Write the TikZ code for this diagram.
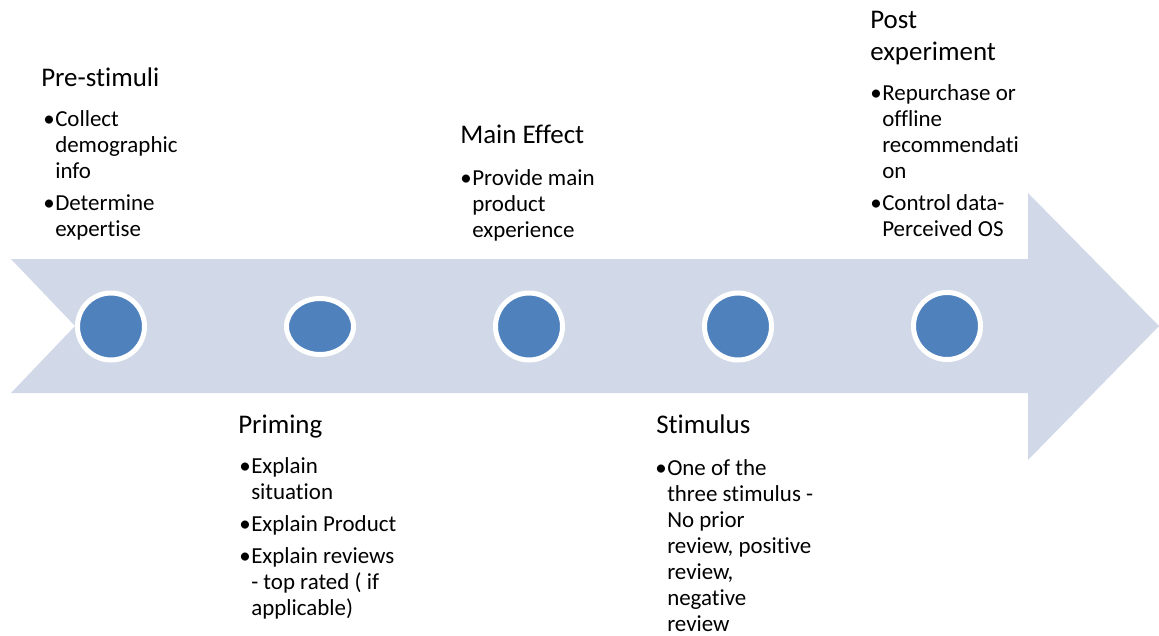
\documentclass[tikz,border=0pt]{standalone}
\usepackage{fontspec}
\setmainfont{Carlito}[RawFeature={-liga;-clig;-calt;-dlig}]
\usetikzlibrary{shapes.geometric}
\definecolor{bandblue}{HTML}{D1D8E7}
\definecolor{dotblue}{HTML}{4F81BD}
\newcommand{\itm}{\makebox[9pt][l]{\textbullet}}
\newcommand{\hang}{\hspace*{9pt}}
\newcommand{\steplist}[1]{\parbox[t]{160pt}{\fontsize{17.2}{19.5}\selectfont #1}}
\newcommand{\steptitle}[1]{\parbox[t]{160pt}{\fontsize{20.2}{24}\selectfont #1}}

\begin{document}
\begin{tikzpicture}[x=0.75pt, y=-0.75pt,
    dot/.style={circle, fill=dotblue, draw=white, line width=3.75pt, minimum size=50.25pt, inner sep=0pt},
    title/.style={anchor=base west, inner sep=0pt},
    list/.style={anchor=base west, inner sep=0pt}]
    % canvas
    \useasboundingbox (0,0) rectangle (1159,635);
    % big arrow
    \fill[bandblue] (11,259) -- (1028,259) -- (1028,193) -- (1159,326)
        -- (1028,460) -- (1028,393) -- (11,393) -- (75,326) -- cycle;
    % dots on the arrow
    \node[dot] (dot1) at (111,326.5) {};
    \node[dot, ellipse, minimum width=50.25pt, minimum height=42pt] (dot2) at (320,326.5) {};
    \node[dot] (dot3) at (529,326.5) {};
    \node[dot] (dot4) at (738,326.5) {};
    \node[dot] (dot5) at (947,326) {};
    % pre-stimuli
    \node[title] (pre-title) at (41,87) {\steptitle{Pre-stimuli}};
    \node[list] (pre-list) at (43,126) {\steplist{\itm Collect\\\hang demographic\\\hang info\\[4.5pt]
        \itm Determine\\\hang expertise}};
    % priming
    \node[title] (prime-title) at (238,433) {\steptitle{Priming}};
    \node[list] (prime-list) at (239,473) {\steplist{\itm Explain\\\hang situation\\[4.5pt]
        \itm Explain Product\\[4.5pt]
        \itm Explain reviews\\\hang - top rated ( if\\\hang applicable)}};
    % main effect
    \node[title] (main-title) at (460,143) {\steptitle{Main Effect}};
    \node[list] (main-list) at (460,185) {\steplist{\itm Provide main\\\hang product\\\hang experience}};
    % stimulus
    \node[title] (stim-title) at (656,433) {\steptitle{Stimulus}};
    \node[list] (stim-list) at (655,475) {\steplist{\itm One of the\\\hang three stimulus -\\\hang No prior\\
        \hang review, positive\\\hang review,\\\hang negative\\\hang review}};
    % post experiment
    \node[title] (post-title) at (870,29) {\steptitle{Post\\experiment}};
    \node[list] (post-list) at (870,100) {\steplist{\itm Repurchase or\\\hang offline\\\hang recommendati\\\hang on\\[4.5pt]
        \itm Control data-\\\hang Perceived OS}};
\end{tikzpicture}
\end{document}
